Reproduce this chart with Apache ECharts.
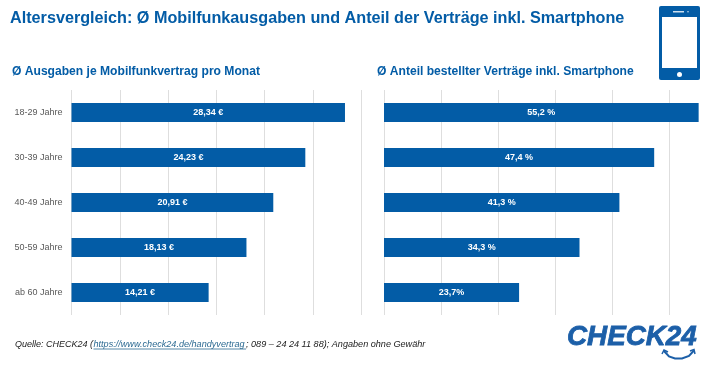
<!DOCTYPE html>
<html><head><meta charset="utf-8">
<style>html,body{margin:0;padding:0;background:#fff}#c{width:710px;height:367px}</style>
<script src="https://cdn.jsdelivr.net/npm/echarts@6/dist/echarts.min.js"></script>
</head><body><div id="c"></div>
<script>
const categories = ['18-29 Jahre','30-39 Jahre','40-49 Jahre','50-59 Jahre','ab 60 Jahre'];
const ausgaben = [28.34,24.23,20.91,18.13,14.21];
const ausgabenLabels = ['28,34 €','24,23 €','20,91 €','18,13 €','14,21 €'];
const anteil = [55.2,47.4,41.3,34.3,23.7];
const anteilLabels = ['55,2 %','47,4 %','41,3 %','34,3 %','23,7%'];
const titleText = 'Altersvergleich: Ø Mobilfunkausgaben und Anteil der Verträge inkl. Smartphone';
const leftTitle = 'Ø Ausgaben je Mobilfunkvertrag pro Monat';
const rightTitle = 'Ø Anteil bestellter Verträge inkl. Smartphone';
const BLUE = '#035ca6', FONT = '"Liberation Sans", Arial, sans-serif';
const chart = echarts.init(document.getElementById('c'), null, {renderer:'canvas'});
const t = (x,y,text,size,color,extra) => ({type:'text',x,y,silent:true,style:Object.assign({text,fill:color,font:`${(extra&&extra.fw)||''} ${size}px ${FONT}`,textVerticalAlign:'middle'},extra&&extra.s)});
const valAxis = (gi,max,interval)=>({type:'value',gridIndex:gi,min:0,max,interval,axisLine:{show:false},axisTick:{show:false},axisLabel:{show:false},
  splitLine:{show:true,showMaxLine:gi===0,lineStyle:{color:'#dedede',width:1}}});
const catAxis = (gi,show)=>({type:'category',gridIndex:gi,data:categories,inverse:true,axisLine:{show:false},axisTick:{show:false},
  axisLabel:{show,color:'#595959',fontSize:9,fontFamily:FONT,margin:9},splitLine:{show:false}});
const bar = (gi,data,labels)=>({type:'bar',xAxisIndex:gi,yAxisIndex:gi,data,barWidth:19,itemStyle:{color:BLUE},silent:true,animation:false,
  label:{show:true,position:'inside',color:'#fff',fontSize:9,fontWeight:'bold',fontFamily:FONT,formatter:p=>labels[p.dataIndex]}});
chart.setOption({
  animation:false,
  backgroundColor:'#fff',
  title:[
    {text:titleText,left:5,top:6,textStyle:{color:BLUE,fontSize:16.2,fontWeight:'bold',fontFamily:FONT}},
    {text:leftTitle,left:7,top:61,textStyle:{color:BLUE,fontSize:12.1,fontWeight:'bold',fontFamily:FONT}},
    {text:rightTitle,left:372,top:61,textStyle:{color:BLUE,fontSize:12.1,fontWeight:'bold',fontFamily:FONT}}
  ],
  grid:[
    {left:71.5,top:90,width:289.5,height:225},
    {left:384,top:90,width:324.9,height:225}
  ],
  xAxis:[valAxis(0,30,5),valAxis(1,57,10)],
  yAxis:[catAxis(0,true),catAxis(1,false)],
  series:[bar(0,ausgaben,ausgabenLabels),bar(1,anteil,anteilLabels)],
  graphic:[
    t(15,344,'Quelle: CHECK24 (',9,'#222',{fw:'italic'}),
    t(93.5,344,'https://www.check24.de/handyvertrag',9.1,'#2c6a92',{fw:'italic'}),
    t(246,344,'; 089 – 24 24 11 88); Angaben ohne Gewähr',9.1,'#222',{fw:'italic'}),
    {type:'line',silent:true,shape:{x1:93.5,y1:349,x2:246,y2:349},style:{stroke:'#2c6a92',lineWidth:0.8}},
    /* phone icon */
    {type:'rect',silent:true,shape:{x:659,y:6,width:41,height:74,r:2},style:{fill:BLUE}},
    {type:'rect',silent:true,shape:{x:662,y:17,width:35,height:51},style:{fill:'#fff'}},
    {type:'rect',silent:true,shape:{x:673,y:11,width:11,height:1.5},style:{fill:'#cfe0ef'}},
    {type:'circle',silent:true,shape:{cx:688,cy:11.7,r:0.8},style:{fill:'#cfe0ef'}},
    {type:'circle',silent:true,shape:{cx:679.5,cy:74.5,r:2.5},style:{fill:'#fff'}},
    /* logo */
    {type:'text',silent:true,x:567,y:337,style:{text:'CHECK24',fill:'#1c5fa8',stroke:'#1c5fa8',lineWidth:0.8,font:`italic bold 27.8px ${FONT}`,textVerticalAlign:'middle'}},
    {type:'polyline',silent:true,shape:{points:[[664,351],[669,356.5],[675,358.5],[682,358.5],[689,356],[694,350.5]]},style:{stroke:'#1c5fa8',fill:'none',lineWidth:2}},
    {type:'polyline',silent:true,shape:{points:[[662,354],[664,350],[668,352]]},style:{stroke:'#1c5fa8',fill:'none',lineWidth:1.5}},
    {type:'polyline',silent:true,shape:{points:[[690,351],[694,349.5],[695,354]]},style:{stroke:'#1c5fa8',fill:'none',lineWidth:1.5}}
  ]
});
</script></body></html>
